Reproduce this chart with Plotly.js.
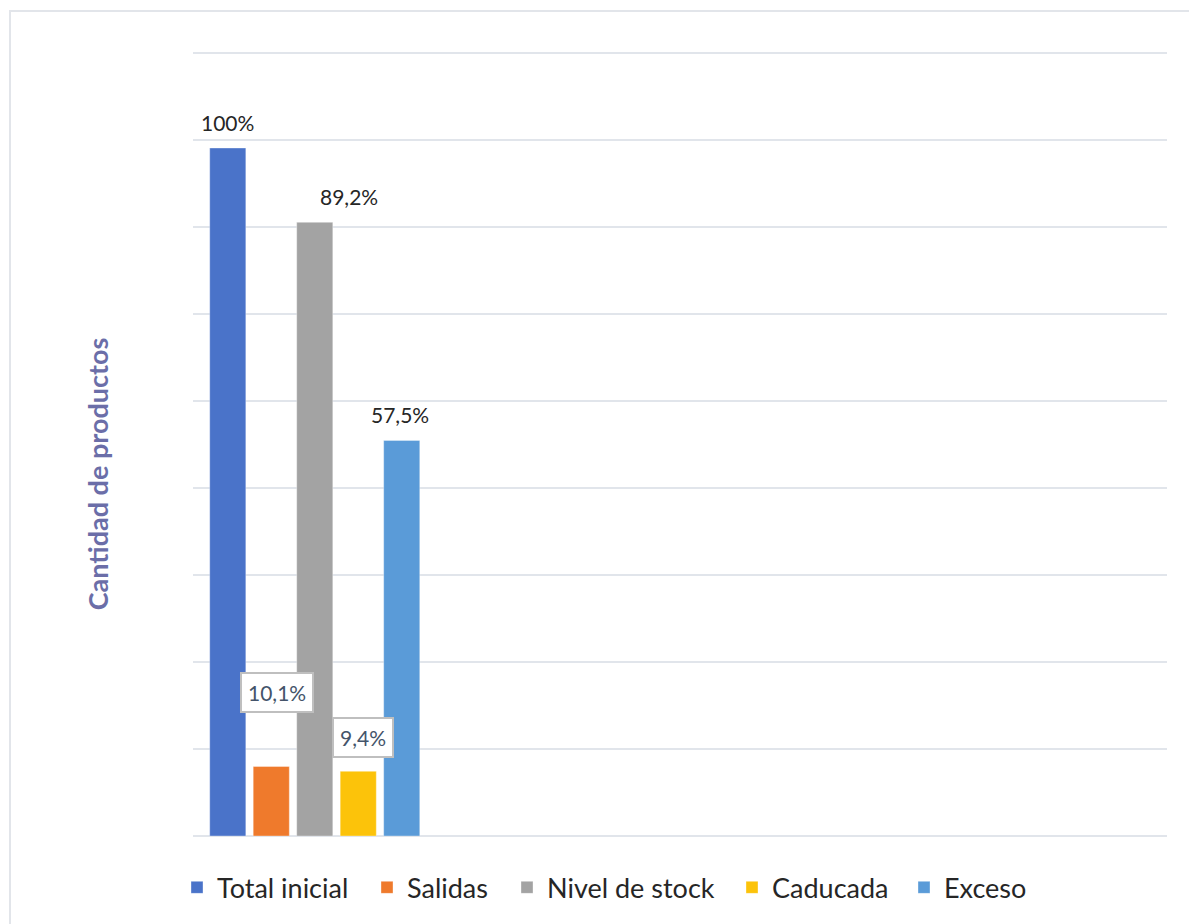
<!DOCTYPE html>
<html>
<head>
<meta charset="utf-8">
<script src="https://cdn.plot.ly/plotly-3.0.1.min.js"></script>
<style>
  html, body { margin: 0; padding: 0; background: #ffffff; overflow: hidden; }
  #frame { position: absolute; left: 9px; top: 10px; width: 1200px; height: 950px;
           border-left: 2px solid #e2e5ea; border-top: 2px solid #e2e5ea; }
  #chart { position: absolute; left: 0; top: 0; width: 1189px; height: 924px; }
</style>
</head>
<body>
<div id="frame"></div>
<div id="chart"></div>
<script>
// ---- data ----
const categories = ["Grupo 1", "Grupo 2", "Grupo 3", "Grupo 4"];
const seriesNames = ["Total inicial", "Salidas", "Nivel de stock", "Caducada", "Exceso"];
const seriesValues = [100, 10.1, 89.2, 9.4, 57.5];
const seriesColors = ["#4a73c9", "#ef7a2c", "#a3a3a3", "#fcc30a", "#5a9bd8"];
const boxedLabel = [false, true, false, true, false];

// ---- layout helpers ----
const bargap = 0.107;
const nSeries = seriesNames.length;
const step = (1 - bargap) / nSeries;
const plotLeft = 193, plotWidth = 974;
const legendTextStart = [218, 408, 548, 773, 945];

function fmt(v) { return (Math.round(v * 10) / 10).toString().replace('.', ',') + '%'; }
const legendIds = seriesNames.map((n, i) => i === 0 ? 'legend' : 'legend' + (i + 1));

const traces = seriesNames.map((name, i) => ({
  type: 'bar',
  name: name,
  legend: legendIds[i],
  x: [categories[0]],
  y: [seriesValues[i]],
  marker: { color: seriesColors[i], line: { width: 1, color: 'rgba(255,255,255,0.35)' } },
  hoverinfo: 'name+y'
}));

const annotations = [];
seriesValues.forEach((v, i) => {
  const xoff = (i - (nSeries - 1) / 2) * step;
  if (!boxedLabel[i]) {
    const xs = [0, 0, 34, 0, -2][i];
    annotations.push({
      x: xoff, y: v, xref: 'x', yref: 'y', text: fmt(v), showarrow: false,
      yanchor: 'bottom', yshift: 11, xshift: xs,
      font: { family: 'Lato, "Open Sans", sans-serif', size: 21, color: '#262626' }
    });
  } else {
    const ys = [0, 54, 0, 13, 0][i];
    const xs = [0, 6, 0, 5, 0][i];
    annotations.push({
      x: xoff, y: v, xref: 'x', yref: 'y', text: fmt(v), showarrow: false,
      yanchor: 'bottom', yshift: ys, xshift: xs,
      bgcolor: '#ffffff', bordercolor: '#bfbfbf', borderwidth: 2, borderpad: 6,
      font: { family: 'Lato, "Open Sans", sans-serif', size: 21, color: '#44546a' }
    });
  }
});

annotations.push({
  xref: 'paper', yref: 'paper', x: -0.0986, y: 0.462, text: '<b>Cantidad de productos</b>',
  showarrow: false, textangle: -90, xanchor: 'center', yanchor: 'middle',
  font: { family: 'Lato, "Open Sans", sans-serif', size: 27, color: '#6b6ea8' }
});

const ymax = 113.81;
const layout = {
  width: 1189, height: 924,
  margin: { l: 193, r: 22, t: 51, b: 88 },
  paper_bgcolor: 'rgba(0,0,0,0)', plot_bgcolor: 'rgba(0,0,0,0)',
  barmode: 'group', bargap: bargap, bargroupgap: 0.17,
  showlegend: true,
  xaxis: {
    type: 'category', categoryarray: categories, categoryorder: 'array',
    range: [-0.5, categories.length - 0.5], showticklabels: false, ticks: '',
    showgrid: false, zeroline: false, showline: false, fixedrange: true
  },
  yaxis: {
    range: [0, ymax * 785 / 783], dtick: ymax / 9, tick0: 0, showticklabels: false, ticks: '',
    showgrid: true, gridcolor: '#e1e5eb', gridwidth: 2,
    zeroline: true, zerolinecolor: '#e1e5eb', zerolinewidth: 2, showline: false
  },
  annotations: annotations
};

legendIds.forEach((id, i) => {
  layout[id] = {
    orientation: 'h',
    x: (legendTextStart[i] - 41 - plotLeft) / plotWidth, xanchor: 'left',
    y: -0.066, yanchor: 'middle',
    font: { family: 'Lato, "Open Sans", sans-serif', size: 27, color: '#262626' },
    itemwidth: 30, bgcolor: 'rgba(0,0,0,0)'
  };
});

Plotly.newPlot('chart', traces, layout, { displayModeBar: false, staticPlot: true });
</script>
</body>
</html>
